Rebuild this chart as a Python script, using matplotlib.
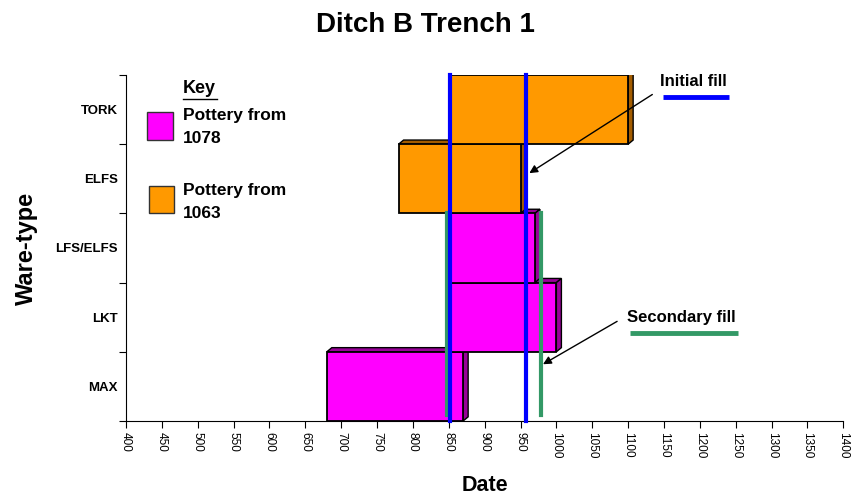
import numpy as np
import matplotlib.pyplot as plt
from matplotlib.patches import Rectangle, Polygon
from matplotlib.lines import Line2D

plt.rcParams['font.family'] = ['Liberation Sans', 'DejaVu Sans']

# ware types from top to bottom, with date ranges
wares = ["TORK", "ELFS", "LFS/ELFS", "LKT", "MAX"]
start = [850, 780, 850, 850, 680]
end = [1100, 950, 970, 1000, 870]
group = ["1063", "1063", "1078", "1078", "1078"]

initial_fill = [852, 957]
secondary_fill = [848, 978]

face = {"1078": "#FF00FF", "1063": "#FF9900"}
side = {"1078": "#990099", "1063": "#A35C00"}

fig = plt.figure(figsize=(8.51, 5), dpi=100)
ax = fig.add_axes([0.148, 0.158, 0.843, 0.692])

n = len(wares)
ypos = np.arange(n)[::-1]  # TORK at top
dx, dy = 7, 0.06

# draw bottom bars first so upper bars cover their depth strips
for i in reversed(range(n)):
    y0 = ypos[i] - 0.5
    x0, x1 = start[i], end[i]
    z = 2 + (n - i) * 0.1
    top = Polygon([(x0, y0 + 1), (x0 + dx, y0 + 1 + dy), (x1 + dx, y0 + 1 + dy), (x1, y0 + 1)],
                  closed=True, facecolor=side[group[i]], edgecolor="black", lw=1, zorder=z)
    right = Polygon([(x1, y0), (x1 + dx, y0 + dy), (x1 + dx, y0 + 1 + dy), (x1, y0 + 1)],
                    closed=True, facecolor=side[group[i]], edgecolor="black", lw=1, zorder=z)
    front = Rectangle((x0, y0), x1 - x0, 1, facecolor=face[group[i]], edgecolor="black",
                      lw=1.3, zorder=z + 0.01)
    ax.add_patch(top)
    ax.add_patch(right)
    ax.add_patch(front)

# fill lines
for x in secondary_fill:
    ax.plot([x, x], [-0.41, 2.5], color="#339966", lw=3, zorder=5)
for x in initial_fill:
    ax.plot([x, x], [-0.5, 4.5], color="#0000FF", lw=3, zorder=6, clip_on=False)

ax.set_xlim(400, 1400)
ax.set_ylim(-0.5, 4.5)
ax.set_xticks(np.arange(400, 1401, 50))
ax.set_xticklabels([str(v) for v in range(400, 1401, 50)], rotation=270, fontsize=8.5)
ax.set_yticks(ypos)
ax.set_yticklabels(wares, fontsize=9.5, fontweight="bold")
ax.set_yticks(np.arange(-0.5, n, 1), minor=True)
ax.tick_params(axis="y", which="major", length=0, pad=6)
ax.tick_params(axis="y", which="minor", length=5, width=0.8, direction="out")
ax.tick_params(axis="x", length=5, width=0.8, direction="out", pad=3)
for s in ["top", "right"]:
    ax.spines[s].set_visible(False)
for s in ["left", "bottom"]:
    ax.spines[s].set_linewidth(0.8)

ax.set_xlabel("Date", fontsize=15.5, fontweight="bold", labelpad=12)
ax.set_ylabel("Ware-type", fontsize=17, fontweight="bold", labelpad=12)
fig.suptitle("Ditch B Trench 1", fontsize=20, fontweight="bold", x=0.5, y=0.975)

# key
W, H = 851, 500
def fx(px):
    return px / W
def fy(py):
    return 1 - py / H

fig.text(fx(183), fy(89), "Key", fontsize=13, fontweight="bold", va="center", ha="left")
fig.add_artist(Line2D([fx(183), fx(217)], [fy(99), fy(99)], color="black", lw=1))
fig.add_artist(Rectangle((fx(147), fy(140)), fx(26), 28 / H, facecolor=face["1078"],
                         edgecolor="#333333", lw=1, transform=fig.transFigure))
fig.add_artist(Rectangle((fx(149), fy(213)), fx(25), 27 / H, facecolor=face["1063"],
                         edgecolor="#333333", lw=1, transform=fig.transFigure))
fig.text(fx(183), fy(127), "Pottery from\n1078", fontsize=12.5, fontweight="bold",
         va="center", ha="left", linespacing=1.65)
fig.text(fx(183), fy(202), "Pottery from\n1063", fontsize=12.5, fontweight="bold",
         va="center", ha="left", linespacing=1.65)

# annotations
ax.text(1144, 4.4, "Initial fill", fontsize=12, fontweight="bold", va="center", ha="left")
ax.plot([1148, 1240], [4.18, 4.18], color="#0000FF", lw=3.5, solid_capstyle="butt")
ax.annotate("", xy=(959, 3.06), xytext=(1137, 4.24),
            arrowprops=dict(arrowstyle="-|>", color="black", lw=1, mutation_scale=12))

ax.text(1098, 1.0, "Secondary fill", fontsize=12, fontweight="bold", va="center", ha="left")
ax.plot([1103, 1253], [0.77, 0.77], color="#339966", lw=3.5, solid_capstyle="butt")
ax.annotate("", xy=(978, 0.3), xytext=(1088, 0.96),
            arrowprops=dict(arrowstyle="-|>", color="black", lw=1, mutation_scale=12))

fig.savefig("out.png", dpi=100)
